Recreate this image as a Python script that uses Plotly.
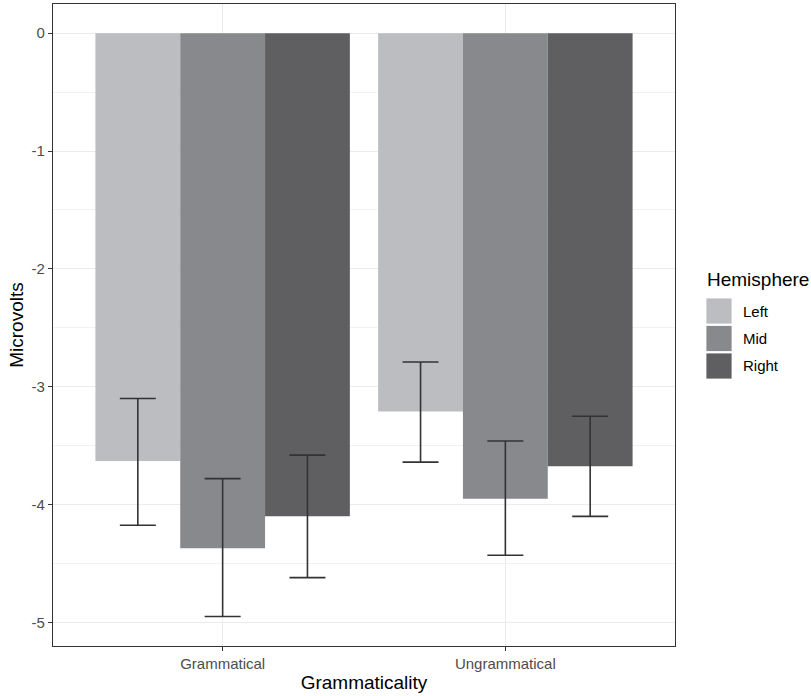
import plotly.graph_objects as go

categories = ["Grammatical", "Ungrammatical"]
hemispheres = ["Left", "Mid", "Right"]
means = {
    "Left": [-3.63, -3.21],
    "Mid": [-4.37, -3.95],
    "Right": [-4.10, -3.675],
}
err_upper = {
    "Left": [0.53, 0.42],
    "Mid": [0.59, 0.49],
    "Right": [0.52, 0.425],
}
err_lower = {
    "Left": [0.545, 0.43],
    "Mid": [0.58, 0.48],
    "Right": [0.52, 0.425],
}
colors = {"Left": "#bcbdc1", "Mid": "#88898d", "Right": "#5f5f62"}
yticks = [0, -1, -2, -3, -4, -5]

W, H = 811, 696
L, R, T, B = 53, 675, 4, 646

fig = go.Figure()
for h in hemispheres:
    fig.add_trace(go.Bar(
        x=categories, y=means[h], name=h,
        marker=dict(color=colors[h], line=dict(width=0)),
        error_y=dict(type="data", symmetric=False, array=err_upper[h], arrayminus=err_lower[h],
                     color="#333333", thickness=1.6, width=18),
        showlegend=False,
    ))

grid = "#ebebeb"
fig.update_layout(
    width=W, height=H,
    margin=dict(l=L, r=W - R, t=T, b=H - B, pad=0),
    barmode="group", bargap=0.1, bargroupgap=0,
    plot_bgcolor="white", paper_bgcolor="white",
    font=dict(family="Liberation Sans, Arial, sans-serif", color="#000000"),
    xaxis=dict(
        range=[-0.6, 1.6], showgrid=True, gridcolor=grid, gridwidth=1.1,
        tickfont=dict(size=15, color="#4d4d4d"),
        ticks="outside", ticklen=4, tickcolor="#333333", tickwidth=1,
        showline=True, linecolor="#333333", linewidth=1.1, mirror=True,
        title=dict(text="Grammaticality", font=dict(size=19), standoff=4),
        zeroline=False, automargin=False,
    ),
    yaxis=dict(
        range=[-5.2, 0.2475], tickvals=yticks, ticktext=[str(v) for v in yticks],
        showgrid=True, gridcolor=grid, gridwidth=1.1,
        minor=dict(dtick=0.5, tick0=0, showgrid=True, gridcolor="#f2f2f2", gridwidth=0.6, ticks=""),
        tickfont=dict(size=15, color="#4d4d4d"),
        ticks="outside", ticklen=4, tickcolor="#333333", tickwidth=1,
        showline=True, linecolor="#333333", linewidth=1.1, mirror=True,
        title=dict(text="Microvolts", font=dict(size=19), standoff=2),
        zeroline=False, automargin=False,
    ),
)

def px2x(px):
    return (px - L) / (R - L)

def py2y(py):
    return (B - py) / (B - T)

# ggplot-style legend
fig.add_annotation(xref="paper", yref="paper", x=px2x(705), y=py2y(279), text="Hemisphere",
                   showarrow=False, xanchor="left", yanchor="middle", font=dict(size=19, color="#000000"))
key_top = 298
for i, h in enumerate(hemispheres):
    y0 = key_top + i * 27.5
    fig.add_shape(type="rect", xref="paper", yref="paper",
                  x0=px2x(706), x1=px2x(732), y0=py2y(y0 + 26), y1=py2y(y0),
                  fillcolor=colors[h], line=dict(width=0.8, color="white"))
    fig.add_annotation(xref="paper", yref="paper", x=px2x(741), y=py2y(y0 + 13), text=h,
                       showarrow=False, xanchor="left", yanchor="middle", font=dict(size=15, color="#000000"))

fig.write_html("out.html", config={"displayModeBar": False},
               post_script="document.body.style.margin='0';document.body.style.overflow='hidden';")
